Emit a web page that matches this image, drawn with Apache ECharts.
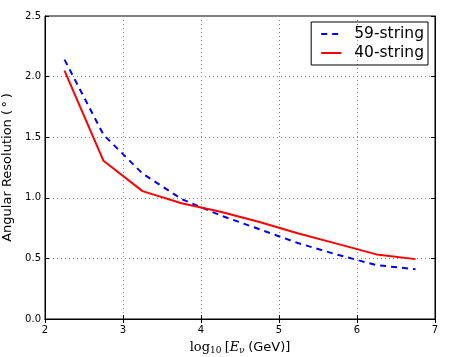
<!DOCTYPE html>
<html lang="en">
<head>
<meta charset="UTF-8">
<title>Angular Resolution</title>
<script src="https://cdn.jsdelivr.net/npm/echarts@6.0.0/dist/echarts.min.js"></script>
<style>
  html, body { margin: 0; padding: 0; background: #fff; }
</style>
</head>
<body>
<div id="chart" style="width: 450px; height: 357px;"></div>
<script>
    // log10 energy bins
    const logE = [2.25, 2.75, 3.25, 3.75, 4.25, 4.75, 5.25, 5.75, 6.25, 6.75];
    // angular resolution in degrees
    const res59 = [2.14, 1.52, 1.20, 0.99, 0.855, 0.74, 0.625, 0.53, 0.445, 0.41];
    const res40 = [2.05, 1.305, 1.055, 0.955, 0.885, 0.80, 0.705, 0.62, 0.533, 0.494];
    const seriesNames = ['59-string', '40-string'];

    const chart = echarts.init(document.getElementById('chart'));
    const font = 'DejaVu Sans';

    chart.setOption({
        animation: false,
        grid: {
            left: 45, right: 15, top: 16, bottom: 38,
            outerBoundsMode: 'none', containLabel: false,
            show: true, borderColor: '#000', borderWidth: 1
        },
        legend: {
            orient: 'vertical',
            right: 22,
            top: 22,
            padding: [4, 4, 4, 9],
            borderColor: '#000',
            borderWidth: 1,
            itemWidth: 20,
            itemHeight: 10,
            itemGap: 3,
            itemStyle: { opacity: 0 },
            textStyle: { fontFamily: font, fontSize: 15.5, color: '#000', padding: [0, 0, 0, 8] },
            data: seriesNames
        },
        xAxis: [{
            type: 'value',
            min: 2, max: 7, interval: 1,
            name: '{m|log}{s|10} {m|[}{i|E}{s|ν} {t|(GeV)]}',
            nameLocation: 'middle',
            nameGap: 21,
            nameTextStyle: {
                rich: {
                    m: { fontFamily: 'DejaVu Serif', fontSize: 13, color: '#000' },
                    i: { fontFamily: 'DejaVu Serif', fontStyle: 'italic', fontSize: 13, color: '#000' },
                    s: { fontFamily: 'DejaVu Serif', fontSize: 9, color: '#000', verticalAlign: 'bottom', padding: [6, 0, 0, 0] },
                    t: { fontFamily: font, fontSize: 13, color: '#000' }
                }
            },
            axisLine: { show: true, lineStyle: { color: '#000' } },
            axisTick: { inside: true, length: 4, lineStyle: { color: '#000' } },
            axisLabel: { fontFamily: font, fontSize: 10, color: '#000', margin: 6 },
            splitLine: { show: true, lineStyle: { color: '#888', type: [1, 3] } }
        }, {
            type: 'value', position: 'top',
            min: 2, max: 7, interval: 1,
            axisLine: { show: true, lineStyle: { color: '#000' } },
            axisTick: { inside: true, length: 4, lineStyle: { color: '#000' } },
            axisLabel: { show: false },
            splitLine: { show: false }
        }],
        yAxis: [{
            type: 'value',
            min: 0, max: 2.5, interval: 0.5,
            name: 'Angular Resolution (\u2009°\u2009)',
            nameLocation: 'middle',
            nameGap: 29,
            nameTextStyle: { fontFamily: font, fontSize: 13, color: '#000' },
            axisLine: { show: true, lineStyle: { color: '#000' } },
            axisTick: { inside: true, length: 4, lineStyle: { color: '#000' } },
            axisLabel: { fontFamily: font, fontSize: 10, color: '#000', margin: 4, formatter: v => v.toFixed(1) },
            splitLine: { show: true, lineStyle: { color: '#888', type: [1, 3] } }
        }, {
            type: 'value', position: 'right',
            min: 0, max: 2.5, interval: 0.5,
            axisLine: { show: true, lineStyle: { color: '#000' } },
            axisTick: { inside: true, length: 4, lineStyle: { color: '#000' } },
            axisLabel: { show: false },
            splitLine: { show: false }
        }],
        series: [{
            name: seriesNames[0],
            type: 'line',
            data: logE.map((x, i) => [x, res59[i]]),
            showSymbol: false,
            symbol: 'none',
            itemStyle: { color: '#0000ff' },
            lineStyle: { color: '#0000ff', width: 2, type: [6, 5] }
        }, {
            name: seriesNames[1],
            type: 'line',
            data: logE.map((x, i) => [x, res40[i]]),
            showSymbol: false,
            symbol: 'none',
            itemStyle: { color: '#ff0000' },
            lineStyle: { color: '#ff0000', width: 2 }
        }]
    });
</script>
</body>
</html>
